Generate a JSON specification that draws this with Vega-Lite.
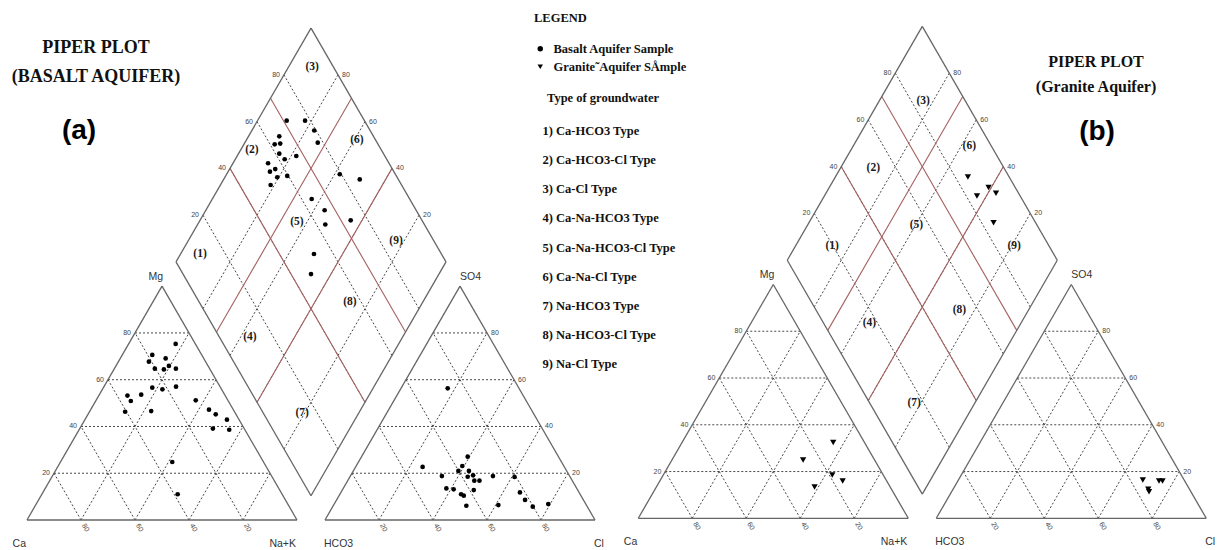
{
  "$schema": "https://vega.github.io/schema/vega-lite/v6.json",
  "width": 1224,
  "height": 550,
  "autosize": {"type": "none"},
  "padding": 0,
  "background": "white",
  "config": {
    "view": {"stroke": null},
    "legend": {
      "labelFont": "Liberation Serif",
      "labelFontWeight": "bold",
      "labelFontSize": 12.5,
      "labelColor": "#111",
      "titleFont": "Liberation Serif",
      "titleFontWeight": "bold",
      "titleFontSize": 12.5,
      "titleColor": "#111",
      "padding": 0
    }
  },
  "datasets": {
    "triangleLines": [
      {"part": "cation", "axis": "A", "level": [0, 20, 40, 60, 80], "panel": ["a", "b"]},
      {"part": "cation", "axis": "B", "level": [0, 20, 40, 60, 80], "panel": ["a", "b"]},
      {"part": "cation", "axis": "C", "level": [0, 20, 40, 60, 80], "panel": ["a", "b"]},
      {"part": "anion", "axis": "A", "level": [0, 20, 40, 60, 80], "panel": ["a", "b"]},
      {"part": "anion", "axis": "B", "level": [0, 20, 40, 60, 80], "panel": ["a", "b"]},
      {"part": "anion", "axis": "C", "level": [0, 20, 40, 60, 80], "panel": ["a", "b"]}
    ],
    "diamondLines": [
      {"axis": "an", "kind": "frame", "level": [0, 100], "panel": ["a", "b"]},
      {"axis": "cat", "kind": "frame", "level": [0, 100], "panel": ["a", "b"]},
      {"axis": "an", "kind": "grid", "level": [20, 40, 60, 80], "panel": ["a", "b"]},
      {"axis": "cat", "kind": "grid", "level": [20, 40, 60, 80], "panel": ["a", "b"]},
      {"axis": "an", "kind": "class", "level": [40, 70], "panel": ["a", "b"]},
      {"axis": "cat", "kind": "class", "level": [30, 60], "panel": ["a", "b"]}
    ],
    "tickLabels": [
      {"edge": "catSide", "level": [20, 40, 60, 80], "panel": ["a", "b"]},
      {"edge": "catBase", "level": [20, 40, 60, 80], "panel": ["a", "b"]},
      {"edge": "anSide", "level": [20, 40, 60, 80], "panel": ["a", "b"]},
      {"edge": "anBase", "level": [20, 40, 60, 80], "panel": ["a", "b"]},
      {"edge": "diaLeft", "level": [20, 40, 60, 80], "panel": ["a", "b"]},
      {"edge": "diaRight", "level": [20, 40, 60, 80], "panel": ["a", "b"]}
    ],
    "corners": [
      {"name": "Ca", "part": "cation", "corner": "left", "panel": ["a", "b"]},
      {"name": "Na+K", "part": "cation", "corner": "right", "panel": ["a", "b"]},
      {"name": "Mg", "part": "cation", "corner": "apex", "panel": ["a", "b"]},
      {"name": "HCO3", "part": "anion", "corner": "left", "panel": ["a", "b"]},
      {"name": "Cl", "part": "anion", "corner": "right", "panel": ["a", "b"]},
      {"name": "SO4", "part": "anion", "corner": "apex", "panel": ["a", "b"]}
    ],
    "regionLabels": [
      {"panel": "a", "type": "1) Ca-HCO3 Type", "SO4Cl": 10.6, "NaK": 7.2},
      {"panel": "a", "type": "2) Ca-HCO3-Cl Type", "SO4Cl": 52, "NaK": 4.2},
      {"panel": "a", "type": "3) Ca-Cl Type", "SO4Cl": 92.1, "NaK": 8.7},
      {"panel": "a", "type": "4) Ca-Na-HCO3 Type", "SO4Cl": 11.3, "NaK": 43.4},
      {"panel": "a", "type": "5) Ca-Na-HCO3-Cl Type", "SO4Cl": 53.3, "NaK": 36.3},
      {"panel": "a", "type": "6) Ca-Na-Cl Type", "SO4Cl": 93, "NaK": 41},
      {"panel": "a", "type": "7) Na-HCO3 Type", "SO4Cl": 14.4, "NaK": 79.1},
      {"panel": "a", "type": "8) Na-HCO3-Cl Type", "SO4Cl": 55.8, "NaK": 73},
      {"panel": "a", "type": "9) Na-Cl Type", "SO4Cl": 86, "NaK": 77},
      {"panel": "b", "type": "1) Ca-HCO3 Type", "SO4Cl": 19.6, "NaK": 13.7},
      {"panel": "b", "type": "2) Ca-HCO3-Cl Type", "SO4Cl": 51.5, "NaK": 12.2},
      {"panel": "b", "type": "3) Ca-Cl Type", "SO4Cl": 84.3, "NaK": 16.4},
      {"panel": "b", "type": "4) Ca-Na-HCO3 Type", "SO4Cl": 16.9, "NaK": 43.9},
      {"panel": "b", "type": "5) Ca-Na-HCO3-Cl Type", "SO4Cl": 55.4, "NaK": 40.2},
      {"panel": "b", "type": "6) Ca-Na-Cl Type", "SO4Cl": 91.8, "NaK": 43},
      {"panel": "b", "type": "7) Na-HCO3 Type", "SO4Cl": 16.4, "NaK": 77.6},
      {"panel": "b", "type": "8) Na-HCO3-Cl Type", "SO4Cl": 53, "NaK": 74.5},
      {"panel": "b", "type": "9) Na-Cl Type", "SO4Cl": 87, "NaK": 81.1}
    ],
    "cations": [
      {"aquifer": "Basalt", "Mg": 75.3, "NaK": 17.4},
      {"aquifer": "Basalt", "Mg": 70.6, "NaK": 11.1},
      {"aquifer": "Basalt", "Mg": 69.1, "NaK": 16.8},
      {"aquifer": "Basalt", "Mg": 67.7, "NaK": 11.3},
      {"aquifer": "Basalt", "Mg": 65.9, "NaK": 19.6},
      {"aquifer": "Basalt", "Mg": 64.7, "NaK": 15.0},
      {"aquifer": "Basalt", "Mg": 64.4, "NaK": 18.5},
      {"aquifer": "Basalt", "Mg": 64.7, "NaK": 22.8},
      {"aquifer": "Basalt", "Mg": 56.6, "NaK": 18.1},
      {"aquifer": "Basalt", "Mg": 55.9, "NaK": 22.2},
      {"aquifer": "Basalt", "Mg": 57.0, "NaK": 26.7},
      {"aquifer": "Basalt", "Mg": 53.2, "NaK": 10.6},
      {"aquifer": "Basalt", "Mg": 53.6, "NaK": 15.5},
      {"aquifer": "Basalt", "Mg": 50.9, "NaK": 13.0},
      {"aquifer": "Basalt", "Mg": 51.2, "NaK": 36.9},
      {"aquifer": "Basalt", "Mg": 46.3, "NaK": 13.2},
      {"aquifer": "Basalt", "Mg": 46.6, "NaK": 22.7},
      {"aquifer": "Basalt", "Mg": 47.2, "NaK": 43.8},
      {"aquifer": "Basalt", "Mg": 45.2, "NaK": 47.3},
      {"aquifer": "Basalt", "Mg": 42.9, "NaK": 52.6},
      {"aquifer": "Basalt", "Mg": 39.1, "NaK": 49.3},
      {"aquifer": "Basalt", "Mg": 38.6, "NaK": 55.6},
      {"aquifer": "Basalt", "Mg": 24.8, "NaK": 41.4},
      {"aquifer": "Basalt", "Mg": 11.0, "NaK": 50.3},
      {"aquifer": "Granite", "Mg": 32.4, "NaK": 56.0},
      {"aquifer": "Granite", "Mg": 24.9, "NaK": 48.6},
      {"aquifer": "Granite", "Mg": 18.5, "NaK": 62.6},
      {"aquifer": "Granite", "Mg": 16.0, "NaK": 67.7},
      {"aquifer": "Granite", "Mg": 13.4, "NaK": 58.6}
    ],
    "anions": [
      {"aquifer": "Basalt", "SO4": 56.3, "Cl": 17.3},
      {"aquifer": "Basalt", "SO4": 22.7, "Cl": 24.8},
      {"aquifer": "Basalt", "SO4": 27.1, "Cl": 39.3},
      {"aquifer": "Basalt", "SO4": 23.1, "Cl": 39.3},
      {"aquifer": "Basalt", "SO4": 21.0, "Cl": 38.9},
      {"aquifer": "Basalt", "SO4": 21.0, "Cl": 42.8},
      {"aquifer": "Basalt", "SO4": 18.8, "Cl": 33.9},
      {"aquifer": "Basalt", "SO4": 18.5, "Cl": 43.6},
      {"aquifer": "Basalt", "SO4": 19.1, "Cl": 45.3},
      {"aquifer": "Basalt", "SO4": 16.8, "Cl": 46.9},
      {"aquifer": "Basalt", "SO4": 16.8, "Cl": 48.8},
      {"aquifer": "Basalt", "SO4": 18.8, "Cl": 52.8},
      {"aquifer": "Basalt", "SO4": 18.4, "Cl": 61.0},
      {"aquifer": "Basalt", "SO4": 13.5, "Cl": 38.2},
      {"aquifer": "Basalt", "SO4": 13.1, "Cl": 41.1},
      {"aquifer": "Basalt", "SO4": 12.8, "Cl": 48.7},
      {"aquifer": "Basalt", "SO4": 11.0, "Cl": 44.9},
      {"aquifer": "Basalt", "SO4": 10.4, "Cl": 46.2},
      {"aquifer": "Basalt", "SO4": 11.8, "Cl": 66.3},
      {"aquifer": "Basalt", "SO4": 6.1, "Cl": 49.3},
      {"aquifer": "Basalt", "SO4": 6.4, "Cl": 61.0},
      {"aquifer": "Basalt", "SO4": 8.6, "Cl": 69.8},
      {"aquifer": "Basalt", "SO4": 5.7, "Cl": 74.1},
      {"aquifer": "Basalt", "SO4": 6.8, "Cl": 79.3},
      {"aquifer": "Granite", "SO4": 16.4, "Cl": 68.3},
      {"aquifer": "Granite", "SO4": 16.0, "Cl": 74.5},
      {"aquifer": "Granite", "SO4": 16.0, "Cl": 75.8},
      {"aquifer": "Granite", "SO4": 12.4, "Cl": 72.3},
      {"aquifer": "Granite", "SO4": 11.4, "Cl": 73.1}
    ],
    "diamond": [
      {"aquifer": "Basalt", "SO4Cl": 71.2, "NaK": 10.8},
      {"aquifer": "Basalt", "SO4Cl": 78.0, "NaK": 17.6},
      {"aquifer": "Basalt", "SO4Cl": 79.3, "NaK": 23.1},
      {"aquifer": "Basalt", "SO4Cl": 78.0, "NaK": 27.0},
      {"aquifer": "Basalt", "SO4Cl": 65.1, "NaK": 11.4},
      {"aquifer": "Basalt", "SO4Cl": 61.7, "NaK": 11.4},
      {"aquifer": "Basalt", "SO4Cl": 63.9, "NaK": 13.3},
      {"aquifer": "Basalt", "SO4Cl": 61.4, "NaK": 15.1},
      {"aquifer": "Basalt", "SO4Cl": 62.2, "NaK": 18.3},
      {"aquifer": "Basalt", "SO4Cl": 67.2, "NaK": 21.9},
      {"aquifer": "Basalt", "SO4Cl": 55.2, "NaK": 13.0},
      {"aquifer": "Basalt", "SO4Cl": 54.1, "NaK": 15.5},
      {"aquifer": "Basalt", "SO4Cl": 56.6, "NaK": 16.9},
      {"aquifer": "Basalt", "SO4Cl": 55.6, "NaK": 19.4},
      {"aquifer": "Basalt", "SO4Cl": 59.6, "NaK": 22.8},
      {"aquifer": "Basalt", "SO4Cl": 51.5, "NaK": 18.6},
      {"aquifer": "Basalt", "SO4Cl": 79.4, "NaK": 41.9},
      {"aquifer": "Basalt", "SO4Cl": 85.7, "NaK": 50.4},
      {"aquifer": "Basalt", "SO4Cl": 63.7, "NaK": 36.8},
      {"aquifer": "Basalt", "SO4Cl": 66.1, "NaK": 44.0},
      {"aquifer": "Basalt", "SO4Cl": 63.3, "NaK": 47.3},
      {"aquifer": "Basalt", "SO4Cl": 73.6, "NaK": 55.8},
      {"aquifer": "Basalt", "SO4Cl": 52.8, "NaK": 49.4},
      {"aquifer": "Basalt", "SO4Cl": 47.4, "NaK": 52.6},
      {"aquifer": "Granite", "SO4Cl": 84.7, "NaK": 49.1},
      {"aquifer": "Granite", "SO4Cl": 90.1, "NaK": 59.0},
      {"aquifer": "Granite", "SO4Cl": 84.0, "NaK": 56.5},
      {"aquifer": "Granite", "SO4Cl": 91.6, "NaK": 63.0},
      {"aquifer": "Granite", "SO4Cl": 84.4, "NaK": 68.4}
    ]
  },
  "layer": [
    {
      "data": {"name": "triangleLines"},
      "transform": [
        {"flatten": ["level"]},
        {"flatten": ["panel"]},
        {"calculate": "datum.axis === 'C' ? 0 : datum.axis === 'B' ? datum.level : 100 - datum.level", "as": "b1"},
        {"calculate": "datum.axis === 'C' ? datum.level : 0", "as": "c1"},
        {"calculate": "datum.axis === 'C' ? 100 - datum.level : datum.axis === 'B' ? datum.level : 0", "as": "b2"},
        {"calculate": "datum.axis === 'C' ? datum.level : 100 - datum.level", "as": "c2"},
        {"calculate": "(datum.panel === 'b' ? 226.4 : 0) + (datum.part === 'anion' ? 110.37 : 0)", "as": "ox"},
        {"calculate": "datum.panel === 'b' ? 0.63 : 0", "as": "oy"},
        {"calculate": "datum.ox + datum.b1 + datum.c1 / 2", "as": "x1"},
        {"calculate": "datum.oy + datum.c1 * 0.8660254", "as": "y1"},
        {"calculate": "datum.ox + datum.b2 + datum.c2 / 2", "as": "x2"},
        {"calculate": "datum.oy + datum.c2 * 0.8660254", "as": "y2"}
      ],
      "encoding": {
        "x": {"field": "x1", "type": "quantitative", "scale": {"domain": [-10, 443.333], "nice": false, "zero": false}, "axis": null},
        "y": {"field": "y1", "type": "quantitative", "scale": {"domain": [-11.111, 192.593], "nice": false, "zero": false}, "axis": null},
        "x2": {"field": "x2"},
        "y2": {"field": "y2"}
      },
      "layer": [
        {"transform": [{"filter": "datum.level > 0"}], "mark": {"type": "rule", "color": "#333", "strokeWidth": 0.9, "strokeDash": [2, 2]}},
        {"transform": [{"filter": "datum.level === 0"}], "mark": {"type": "rule", "color": "#666", "strokeWidth": 1.3}}
      ]
    },
    {
      "data": {"name": "diamondLines"},
      "transform": [
        {"flatten": ["level"]},
        {"flatten": ["panel"]},
        {"calculate": "datum.axis === 'an' ? datum.level : 0", "as": "a1"},
        {"calculate": "datum.axis === 'an' ? 0 : datum.level", "as": "k1"},
        {"calculate": "datum.axis === 'an' ? datum.level : 100", "as": "a2"},
        {"calculate": "datum.axis === 'an' ? 100 : datum.level", "as": "k2"},
        {"calculate": "datum.panel === 'b' ? 226.4 : 0", "as": "ox"},
        {"calculate": "datum.panel === 'b' ? 0.63 : 0", "as": "oy"},
        {"calculate": "datum.ox + 105.185 + 0.5 * (datum.a1 - 100 + datum.k1)", "as": "x1"},
        {"calculate": "datum.oy + 8.981 + 0.8660254 * (datum.a1 + 100 - datum.k1)", "as": "y1"},
        {"calculate": "datum.ox + 105.185 + 0.5 * (datum.a2 - 100 + datum.k2)", "as": "x2"},
        {"calculate": "datum.oy + 8.981 + 0.8660254 * (datum.a2 + 100 - datum.k2)", "as": "y2"}
      ],
      "encoding": {
        "x": {"field": "x1", "type": "quantitative", "scale": {"domain": [-10, 443.333], "nice": false, "zero": false}, "axis": null},
        "y": {"field": "y1", "type": "quantitative", "scale": {"domain": [-11.111, 192.593], "nice": false, "zero": false}, "axis": null},
        "x2": {"field": "x2"},
        "y2": {"field": "y2"}
      },
      "layer": [
        {"transform": [{"filter": "datum.kind === 'grid'"}], "mark": {"type": "rule", "color": "#333", "strokeWidth": 0.9, "strokeDash": [2, 2]}},
        {"transform": [{"filter": "datum.kind === 'class'"}], "mark": {"type": "rule", "color": "#a4615f", "strokeWidth": 1.1}},
        {"transform": [{"filter": "datum.kind === 'frame'"}], "mark": {"type": "rule", "color": "#666", "strokeWidth": 1.3}}
      ]
    },
    {
      "data": {"name": "tickLabels"},
      "transform": [
        {"flatten": ["level"]},
        {"flatten": ["panel"]},
        {"calculate": "datum.panel === 'b' ? 226.4 : 0", "as": "ox"},
        {"calculate": "datum.panel === 'b' ? 0.63 : 0", "as": "oy"},
        {"calculate": "datum.edge === 'catSide' ? datum.ox + datum.level / 2 : datum.edge === 'catBase' ? datum.ox + 100 - datum.level : datum.edge === 'anSide' ? datum.ox + 210.37 - datum.level / 2 : datum.edge === 'anBase' ? datum.ox + 110.37 + datum.level : datum.edge === 'diaLeft' ? datum.ox + 105.185 + 0.5 * (datum.level - 100) : datum.ox + 105.185 + 0.5 * (100 - datum.level)", "as": "px"},
        {"calculate": "datum.edge === 'catSide' || datum.edge === 'anSide' ? datum.oy + datum.level * 0.8660254 : datum.edge === 'catBase' || datum.edge === 'anBase' ? datum.oy : datum.oy + 8.981 + 0.8660254 * (100 + datum.level)", "as": "py"}
      ],
      "encoding": {
        "x": {"field": "px", "type": "quantitative", "scale": {"domain": [-10, 443.333], "nice": false, "zero": false}, "axis": null},
        "y": {"field": "py", "type": "quantitative", "scale": {"domain": [-11.111, 192.593], "nice": false, "zero": false}, "axis": null},
        "text": {"field": "level", "type": "quantitative"}
      },
      "layer": [
        {"transform": [{"filter": "datum.edge === 'catSide' || datum.edge === 'diaLeft'"}], "mark": {"type": "text", "font": "Liberation Sans", "fontSize": 7, "color": "#444", "align": "right", "baseline": "middle", "dx": -4}},
        {"transform": [{"filter": "datum.edge === 'anSide' || datum.edge === 'diaRight'"}], "mark": {"type": "text", "font": "Liberation Sans", "fontSize": 7, "color": "#444", "align": "left", "baseline": "middle", "dx": 4}},
        {"transform": [{"filter": "datum.edge === 'catBase' || datum.edge === 'anBase'"}], "mark": {"type": "text", "font": "Liberation Sans", "fontSize": 7, "color": "#444", "align": "left", "baseline": "middle", "angle": 60, "dx": 5}}
      ]
    },
    {
      "data": {"name": "corners"},
      "transform": [
        {"flatten": ["panel"]},
        {"calculate": "(datum.panel === 'b' ? 226.4 : 0) + (datum.part === 'anion' ? 110.37 : 0) + (datum.corner === 'left' ? 0 : datum.corner === 'right' ? 100 : 50)", "as": "px"},
        {"calculate": "(datum.panel === 'b' ? 0.63 : 0) + (datum.corner === 'apex' ? 86.6025 : 0)", "as": "py"}
      ],
      "encoding": {
        "x": {"field": "px", "type": "quantitative", "scale": {"domain": [-10, 443.333], "nice": false, "zero": false}, "axis": null},
        "y": {"field": "py", "type": "quantitative", "scale": {"domain": [-11.111, 192.593], "nice": false, "zero": false}, "axis": null},
        "text": {"field": "name"}
      },
      "layer": [
        {"transform": [{"filter": "datum.part === 'cation' && datum.corner === 'apex'"}], "mark": {"type": "text", "font": "Liberation Sans", "fontSize": 10.5, "color": "#333", "align": "right", "baseline": "middle", "dx": 1, "dy": -9}},
        {"transform": [{"filter": "datum.part === 'anion' && datum.corner === 'apex'"}], "mark": {"type": "text", "font": "Liberation Sans", "fontSize": 10.5, "color": "#333", "align": "left", "baseline": "middle", "dx": 0, "dy": -9}},
        {"transform": [{"filter": "datum.part === 'cation' && datum.corner !== 'apex'"}], "mark": {"type": "text", "font": "Liberation Sans", "fontSize": 10.5, "color": "#333", "align": "right", "baseline": "middle", "dx": -1, "dy": 24}},
        {"transform": [{"filter": "datum.part === 'anion' && datum.corner !== 'apex'"}], "mark": {"type": "text", "font": "Liberation Sans", "fontSize": 10.5, "color": "#333", "align": "left", "baseline": "middle", "dx": -1, "dy": 24}}
      ]
    },
    {
      "data": {"name": "regionLabels"},
      "transform": [
        {"calculate": "datum.panel === 'b' ? 226.4 : 0", "as": "ox"},
        {"calculate": "datum.panel === 'b' ? 0.63 : 0", "as": "oy"},
        {"calculate": "datum.ox + 105.185 + 0.5 * (datum.SO4Cl - 100 + datum.NaK)", "as": "px"},
        {"calculate": "datum.oy + 8.981 + 0.8660254 * (datum.SO4Cl + 100 - datum.NaK)", "as": "py"},
        {"calculate": "'(' + substring(datum.type, 0, 1) + ')'", "as": "code"}
      ],
      "mark": {"type": "text", "font": "Liberation Serif", "fontWeight": "bold", "fontSize": 11.5, "align": "center", "baseline": "middle"},
      "encoding": {
        "x": {"field": "px", "type": "quantitative", "scale": {"domain": [-10, 443.333], "nice": false, "zero": false}, "axis": null},
        "y": {"field": "py", "type": "quantitative", "scale": {"domain": [-11.111, 192.593], "nice": false, "zero": false}, "axis": null},
        "text": {"field": "code"},
        "color": {
          "field": "type",
          "type": "nominal",
          "scale": {"range": ["#1a1a1a", "#1a1a1a", "#1a1a1a", "#1a1a1a", "#1a1a1a", "#1a1a1a", "#1a1a1a", "#1a1a1a", "#1a1a1a"]},
          "legend": {
            "title": "\u00a0\u00a0\u00a0\u00a0Type of groundwater",
            "orient": "none",
            "legendX": 530,
            "legendY": 92,
            "titleAnchor": "middle",
            "titlePadding": 20,
            "rowPadding": 16.2,
            "symbolSize": 0,
            "symbolOpacity": 0,
            "symbolStrokeWidth": 0,
            "labelOffset": 0
          }
        }
      }
    },
    {
      "data": {"name": "cations"},
      "transform": [
        {"calculate": "datum.aquifer === 'Granite' ? 226.4 : 0", "as": "ox"},
        {"calculate": "datum.aquifer === 'Granite' ? 0.63 : 0", "as": "oy"},
        {"calculate": "datum.ox + datum.NaK + datum.Mg / 2", "as": "px"},
        {"calculate": "datum.oy + datum.Mg * 0.8660254", "as": "py"}
      ],
      "mark": {"type": "point", "filled": true, "color": "#000", "opacity": 1},
      "encoding": {
        "x": {"field": "px", "type": "quantitative", "scale": {"domain": [-10, 443.333], "nice": false, "zero": false}, "axis": null},
        "y": {"field": "py", "type": "quantitative", "scale": {"domain": [-11.111, 192.593], "nice": false, "zero": false}, "axis": null},
        "size": {"condition": {"test": "datum.aquifer === 'Granite'", "value": 40}, "value": 22},
        "shape": {
          "field": "aquifer",
          "type": "nominal",
          "scale": {"domain": ["Basalt", "Granite"], "range": ["circle", "triangle-down"]},
          "legend": {
            "title": "\u00a0\u00a0\u00a0LEGEND",
            "orient": "none",
            "legendX": 534,
            "legendY": 12,
            "titlePadding": 18,
            "rowPadding": 5,
            "symbolSize": 30,
            "symbolFillColor": "#000",
            "symbolStrokeColor": "#000",
            "symbolStrokeWidth": 0,
            "labelOffset": 7,
            "labelExpr": "datum.label === 'Basalt' ? 'Basalt Aquifer Sample' : 'Granite\u02dcAquifer S\u00c5mple'"
          }
        }
      }
    },
    {
      "data": {"name": "anions"},
      "transform": [
        {"calculate": "datum.aquifer === 'Granite' ? 226.4 : 0", "as": "ox"},
        {"calculate": "datum.aquifer === 'Granite' ? 0.63 : 0", "as": "oy"},
        {"calculate": "datum.ox + 110.37 + datum.Cl + datum.SO4 / 2", "as": "px"},
        {"calculate": "datum.oy + datum.SO4 * 0.8660254", "as": "py"}
      ],
      "mark": {"type": "point", "filled": true, "color": "#000", "opacity": 1},
      "encoding": {
        "x": {"field": "px", "type": "quantitative", "scale": {"domain": [-10, 443.333], "nice": false, "zero": false}, "axis": null},
        "y": {"field": "py", "type": "quantitative", "scale": {"domain": [-11.111, 192.593], "nice": false, "zero": false}, "axis": null},
        "size": {"condition": {"test": "datum.aquifer === 'Granite'", "value": 40}, "value": 22},
        "shape": {
          "field": "aquifer",
          "type": "nominal",
          "scale": {"domain": ["Basalt", "Granite"], "range": ["circle", "triangle-down"]}
        }
      }
    },
    {
      "data": {"name": "diamond"},
      "transform": [
        {"calculate": "datum.aquifer === 'Granite' ? 226.4 : 0", "as": "ox"},
        {"calculate": "datum.aquifer === 'Granite' ? 0.63 : 0", "as": "oy"},
        {"calculate": "datum.ox + 105.185 + 0.5 * (datum.SO4Cl - 100 + datum.NaK)", "as": "px"},
        {"calculate": "datum.oy + 8.981 + 0.8660254 * (datum.SO4Cl + 100 - datum.NaK)", "as": "py"}
      ],
      "mark": {"type": "point", "filled": true, "color": "#000", "opacity": 1},
      "encoding": {
        "x": {"field": "px", "type": "quantitative", "scale": {"domain": [-10, 443.333], "nice": false, "zero": false}, "axis": null},
        "y": {"field": "py", "type": "quantitative", "scale": {"domain": [-11.111, 192.593], "nice": false, "zero": false}, "axis": null},
        "size": {"condition": {"test": "datum.aquifer === 'Granite'", "value": 40}, "value": 22},
        "shape": {
          "field": "aquifer",
          "type": "nominal",
          "scale": {"domain": ["Basalt", "Granite"], "range": ["circle", "triangle-down"]}
        }
      }
    },
    {
      "data": {"values": [{}]},
      "mark": {"type": "text", "text": ["PIPER PLOT", "(BASALT AQUIFER)"], "font": "Liberation Serif", "fontWeight": "bold", "fontSize": 18, "lineHeight": 29, "align": "center", "baseline": "alphabetic", "color": "#111"},
      "encoding": {
        "x": {"datum": 25.56, "type": "quantitative", "scale": {"domain": [-10, 443.333], "nice": false, "zero": false}, "axis": null},
        "y": {"datum": 172.96, "type": "quantitative", "scale": {"domain": [-11.111, 192.593], "nice": false, "zero": false}, "axis": null}
      }
    },
    {
      "data": {"values": [{}]},
      "mark": {"type": "text", "text": ["PIPER PLOT", "(Granite Aquifer)"], "font": "Liberation Serif", "fontWeight": "bold", "fontSize": 16, "lineHeight": 25, "align": "center", "baseline": "alphabetic", "color": "#111"},
      "encoding": {
        "x": {"datum": 395.93, "type": "quantitative", "scale": {"domain": [-10, 443.333], "nice": false, "zero": false}, "axis": null},
        "y": {"datum": 167.96, "type": "quantitative", "scale": {"domain": [-11.111, 192.593], "nice": false, "zero": false}, "axis": null}
      }
    },
    {
      "data": {"values": [{"tag": "(a)", "x": 19.26, "y": 144.07}, {"tag": "(b)", "x": 396.3, "y": 143.7}]},
      "mark": {"type": "text", "font": "Liberation Sans", "fontWeight": "bold", "fontSize": 28, "align": "center", "baseline": "middle", "color": "#000"},
      "encoding": {
        "x": {"field": "x", "type": "quantitative", "scale": {"domain": [-10, 443.333], "nice": false, "zero": false}, "axis": null},
        "y": {"field": "y", "type": "quantitative", "scale": {"domain": [-11.111, 192.593], "nice": false, "zero": false}, "axis": null},
        "text": {"field": "tag"}
      }
    }
  ]
}
